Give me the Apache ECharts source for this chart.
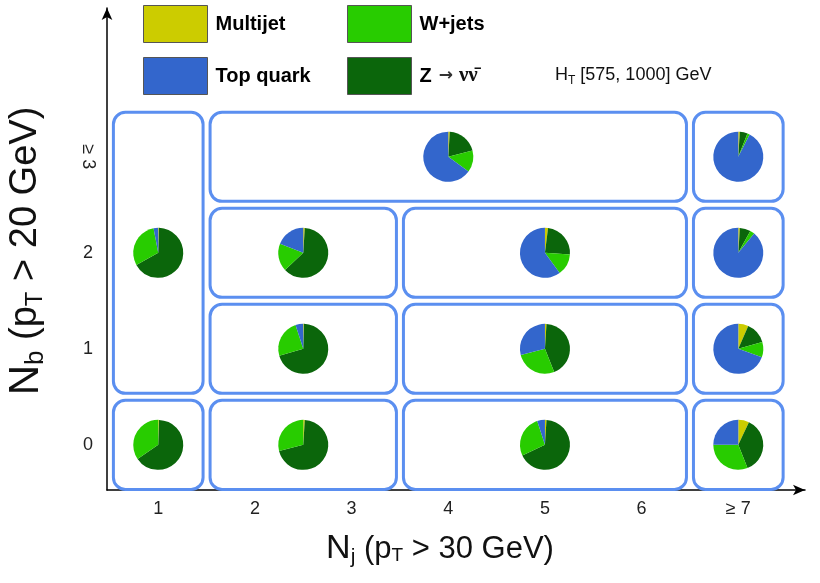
<!DOCTYPE html>
<html><head><meta charset="utf-8">
<script src="https://cdn.jsdelivr.net/npm/echarts@6/dist/echarts.min.js"></script>
<style>html,body{margin:0;padding:0;background:#fff}#c{width:820px;height:583px}</style>
</head><body><div id="c"></div>
<script>
// ---- data ----
const processes = ['Multijet', 'Z → νν̄', 'W+jets', 'Top quark'];
const colors = ['#cccc00', '#0b660b', '#28cc00', '#3366cc'];
const xTickValues = [1, 2, 3, 4, 5, 6, 7];
const xTickLabels = ['1', '2', '3', '4', '5', '6', '≥ 7'];
const yTickValues = [0, 1, 2, 3];
const yTickLabels = ['0', '1', '2', '≥ 3'];
// analysis bins (Nj low/high edge, Nb low/high edge)
const binX0 = [0.5, 0.5, 1.5, 3.5, 6.5, 1.5, 3.5, 6.5, 1.5, 3.5, 6.5, 1.5, 6.5];
const binX1 = [1.5, 1.5, 3.5, 6.5, 7.5, 3.5, 6.5, 7.5, 3.5, 6.5, 7.5, 6.5, 7.5];
const binY0 = [0.5, -0.5, -0.5, -0.5, -0.5, 0.5, 0.5, 0.5, 1.5, 1.5, 1.5, 2.5, 2.5];
const binY1 = [3.5, 0.5, 0.5, 0.5, 0.5, 1.5, 1.5, 1.5, 2.5, 2.5, 2.5, 3.5, 3.5];
// background composition per bin
const multijetFrac = [0.005, 0.005, 0.01, 0.01, 0.07, 0.005, 0.01, 0.065, 0.01, 0.02, 0.01, 0.01, 0.01];
const zinvFrac     = [0.665, 0.65, 0.70, 0.67, 0.37, 0.70, 0.43, 0.14, 0.62, 0.24, 0.07, 0.20, 0.05];
const wjetsFrac    = [0.30, 0.345, 0.29, 0.27, 0.31, 0.245, 0.27, 0.10, 0.18, 0.14, 0.03, 0.14, 0.015];
const topFrac      = [0.03, 0.0, 0.0, 0.05, 0.25, 0.05, 0.29, 0.695, 0.19, 0.60, 0.89, 0.65, 0.925];
const htLabel = 'H{s|T} [575, 1000] GeV';

const chart = echarts.init(document.getElementById('c'));
const FONT = '"Liberation Sans", Arial, Helvetica, sans-serif';

const boxData = binX0.map((v, i) => [binX0[i], binX1[i], binY0[i], binY1[i]]);

const boxSeries = {
  type: 'custom', silent: true, clip: false,
  encode: { x: [0, 1], y: [2, 3] },
  data: boxData,
  renderItem: function (params, api) {
    const tl = api.coord([api.value(0), api.value(3)]);
    const br = api.coord([api.value(1), api.value(2)]);
    const inset = 3.5;
    return {
      type: 'rect',
      shape: { x: tl[0] + inset, y: tl[1] + inset, width: br[0] - tl[0] - 2 * inset, height: br[1] - tl[1] - 2 * inset, r: 12 },
      style: { fill: 'none', stroke: '#5b8ff0', lineWidth: 3 }
    };
  }
};

chart.setOption({
  animation: false,
  color: colors,
  grid: { left: 107, right: 15, top: 8, bottom: 93, containLabel: false },
  xAxis: {
    type: 'value', min: 0.47, max: 7.69,
    splitLine: { show: false }, axisTick: { show: false },
    axisLine: { onZero: false, lineStyle: { color: '#000', width: 1.5 }, symbol: ['none', 'arrow'], symbolSize: [8, 12] },
    axisLabel: {
      customValues: xTickValues, margin: 10, fontSize: 18, color: '#222', fontFamily: FONT,
      formatter: v => xTickLabels[xTickValues.indexOf(v)]
    }
  },
  yAxis: {
    type: 'value', min: -0.47, max: 4.55,
    splitLine: { show: false }, axisTick: { show: false },
    axisLine: { onZero: false, lineStyle: { color: '#000', width: 1.5 }, symbol: ['none', 'arrow'], symbolSize: [8, 12] },
    axisLabel: {
      customValues: yTickValues.slice(0, 3), margin: 14, fontSize: 18, color: '#222', fontFamily: FONT,
      formatter: v => yTickLabels[yTickValues.indexOf(v)]
    }
  },
  series: [boxSeries]
});

const pieSeries = binX0.map((v, i) => {
  const c = chart.convertToPixel({ gridIndex: 0 }, [(binX0[i] + binX1[i]) / 2, (binY0[i] + binY1[i]) / 2]);
  const vals = [multijetFrac[i], zinvFrac[i], wjetsFrac[i], topFrac[i]];
  return {
    type: 'pie', center: c, radius: 25, startAngle: 90, clockwise: true,
    label: { show: false }, labelLine: { show: false }, silent: true,
    itemStyle: { borderWidth: 0 },
    emphasis: { disabled: true },
    data: processes.map((p, k) => ({ name: p, value: vals[k], itemStyle: { color: colors[k] } }))
  };
});

const p3 = chart.convertToPixel({ gridIndex: 0 }, [0.47, yTickValues[3]]);
const legendCommon = {
  orient: 'horizontal', itemWidth: 64, itemHeight: 37, itemGap: 0, padding: 0,
  icon: 'rect', selectedMode: false,
  itemStyle: { borderColor: '#555', borderWidth: 1 },
  textStyle: { fontSize: 20, fontWeight: 'bold', color: '#000', fontFamily: FONT, padding: [0, 0, 0, 3],
    rich: {
      b: { fontSize: 20, fontWeight: 'bold', color: '#000', fontFamily: FONT },
      a: { fontSize: 17, color: '#333', fontFamily: '"DejaVu Sans", sans-serif', padding: [0, 6, 0, 7] },
      n: { fontSize: 21, color: '#111', fontFamily: '"Liberation Serif", "DejaVu Serif", serif' }
    }
  },
  formatter: name => name === processes[1] ? '{b|Z}{a|→}{n|νν̄}' : name
};
const legendLeft = [143, 347, 143, 347];
const legendTop = [5, 5, 57, 57];
const legendOrder = [0, 2, 3, 1];

chart.setOption({
  legend: legendOrder.map((k, j) => Object.assign({}, legendCommon, { left: legendLeft[j], top: legendTop[j], data: [processes[k]] })),
  series: [boxSeries].concat(pieSeries),
  graphic: [
    { type: 'text', left: 555, top: 66, style: { text: htLabel, fontSize: 18, fill: '#111', fontFamily: FONT,
        rich: { s: { fontSize: 12, verticalAlign: 'bottom', padding: [12, 0, 0, 0], fill: '#111', fontFamily: FONT } } } },
    { type: 'text', x: p3[0] - 19, y: p3[1], rotation: -Math.PI / 2,
      style: { text: yTickLabels[3], fontSize: 18, fill: '#222', fontFamily: FONT, align: 'center', verticalAlign: 'middle' } },
    { type: 'text', x: 440, y: 549,
      style: { text: '{N|N}{s|j}{t| (p}{s2|T}{t| > 30 GeV)}', fontFamily: FONT, align: 'center', verticalAlign: 'middle',
        rich: {
          N: { fontSize: 34, fill: '#111', fontFamily: FONT },
          s: { fontSize: 21, fill: '#111', fontFamily: FONT, padding: [16, 0, 0, 0] },
          t: { fontSize: 31, fill: '#111', fontFamily: FONT },
          s2: { fontSize: 19, fill: '#111', fontFamily: FONT, padding: [14, 0, 0, 0] }
        } } },
    { type: 'text', x: 26, y: 251, rotation: Math.PI / 2,
      style: { text: '{N|N}{s|b}{t| (p}{s2|T}{t| > 20 GeV)}', fontFamily: FONT, align: 'center', verticalAlign: 'middle',
        rich: {
          N: { fontSize: 42, fill: '#111', fontFamily: FONT },
          s: { fontSize: 26, fill: '#111', fontFamily: FONT, padding: [20, 0, 0, 0] },
          t: { fontSize: 38, fill: '#111', fontFamily: FONT },
          s2: { fontSize: 24, fill: '#111', fontFamily: FONT, padding: [18, 0, 0, 0] }
        } } }
  ]
});
</script>
</body></html>
